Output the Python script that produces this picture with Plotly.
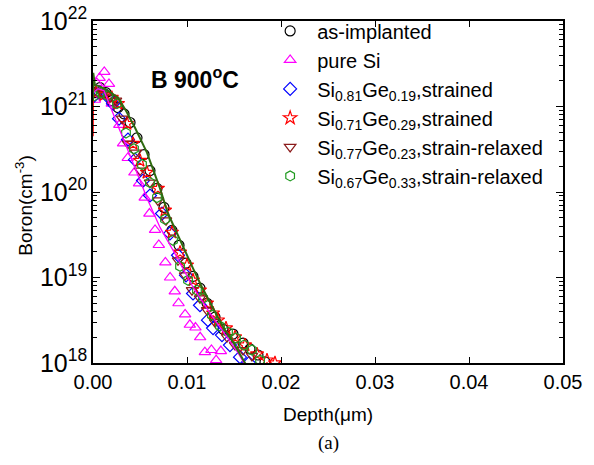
import plotly.graph_objects as go

# as-implanted (black circles)
imp_x = [0.0002, 0.00074, 0.00138, 0.0020, 0.00266, 0.0033, 0.00394, 0.00468, 0.00543, 0.00606,
         0.00681, 0.00755, 0.0084, 0.00915, 0.00989, 0.01064, 0.01138, 0.01213, 0.01298, 0.01383,
         0.01489, 0.01596, 0.0167, 0.01755, 0.0183]
imp_y = [1.45e21, 1.66e21, 1.45e21, 1.17e21, 9.7e20, 8.2e20, 6.5e20, 4.3e20, 2.74e20, 1.78e20,
         1.10e20, 6.6e19, 3.56e19, 2.38e19, 1.47e19, 1.03e19, 7.5e18, 5.0e18, 3.44e18, 2.49e18,
         2.18e18, 1.71e18, 1.46e18, 1.24e18, 1.03e18]

# pure Si (magenta triangles)
si_x = [0.0002, 0.0004, 0.0007, 0.0012, 0.0017, 0.0020, 0.0028, 0.0032, 0.0037, 0.0044,
        0.0049, 0.0055, 0.0060, 0.0066, 0.0070, 0.0077, 0.0082, 0.0087, 0.0091, 0.0098,
        0.0103, 0.0109, 0.0114, 0.0119, 0.0126, 0.0131, 0.0136]
si_y = [1.2e21, 1.89e21, 2.16e21, 2.54e21, 1.84e21, 1.08e21, 6.1e20, 3.7e20, 2.5e20, 1.69e20,
        1.26e20, 8.6e19, 5.6e19, 3.6e19, 2.4e19, 1.5e19, 1.0e19, 6.9e18, 5.0e18, 3.7e18,
        2.8e18, 2.6e18, 2.0e18, 1.34e18, 1.42e18, 1.08e18, 1.38e18]

# Si0.81Ge0.19 strained (blue diamonds)
g19_x = [0.0001, 0.00074, 0.00149, 0.00213, 0.00277, 0.00372, 0.00447, 0.00532, 0.00606, 0.00734,
         0.00819, 0.00904, 0.00989, 0.01064, 0.01138, 0.01223, 0.01277, 0.01372, 0.01457, 0.01564, 0.0166]
g19_y = [1.33e21, 1.45e21, 1.33e21, 1.08e21, 7.2e20, 4.1e20, 2.39e20, 1.36e20, 9.1e19, 5.6e19,
         3.28e19, 1.82e19, 1.06e19, 6.5e18, 4.74e18, 3.17e18, 2.56e18, 2.12e18, 1.62e18, 1.17e18, 1.0e18]

# Si0.71Ge0.29 strained (red stars)
g29_x = [0.00032, 0.00117, 0.0020, 0.00266, 0.00362, 0.00426, 0.0050, 0.00574, 0.00691, 0.00766,
         0.0084, 0.00926, 0.0100, 0.01064, 0.01138, 0.01213, 0.01277, 0.0133, 0.01415, 0.01511,
         0.01617, 0.01745, 0.01851, 0.01936]
g29_y = [1.45e21, 1.37e21, 1.27e21, 1.08e21, 6.3e20, 3.68e20, 2.33e20, 1.69e20, 1.10e20, 6.1e19,
         3.37e19, 1.97e19, 1.39e19, 9.3e18, 7.1e18, 5.0e18, 3.83e18, 3.17e18, 2.56e18, 2.01e18,
         1.62e18, 1.27e18, 1.08e18, 1.0e18]

# Si0.77Ge0.23 strain-relaxed (dark red down triangles)
g23_x = [0.0002, 0.00106, 0.00181, 0.00245, 0.00309, 0.00372, 0.00457, 0.0050, 0.00606, 0.00691,
         0.00777, 0.00904, 0.00979, 0.01053, 0.01138, 0.01213, 0.01298, 0.01426, 0.01511, 0.01596, 0.01691]
g23_y = [1.53e21, 1.41e21, 1.27e21, 1.17e21, 7.2e20, 3.68e20, 2.89e20, 1.78e20, 1.29e20, 7.96e19,
         4.66e19, 1.59e19, 1.06e19, 7.1e18, 5.7e18, 4.15e18, 3.0e18, 2.01e18, 1.62e18, 1.42e18, 1.21e18]

# Si0.67Ge0.33 strain-relaxed (green hexagons)
g33_x = [0.0001, 0.00085, 0.0016, 0.00255, 0.00351, 0.00436, 0.00521, 0.00606, 0.00681, 0.00766,
         0.00851, 0.00926, 0.01011, 0.01106, 0.0117, 0.01266, 0.01351, 0.01436, 0.01521, 0.01606,
         0.01691, 0.01777]
g33_y = [1.33e21, 1.45e21, 1.33e21, 1.08e21, 4.9e20, 3.2e20, 2.1e20, 1.29e20, 8.6e19, 4.8e19,
         2.72e19, 1.35e19, 9.3e18, 7.1e18, 5.7e18, 3.63e18, 2.7e18, 2.3e18, 1.96e18, 1.62e18,
         1.42e18, 1.08e18]

# simulated profiles
sim_si_x = [0.0, 0.00053, 0.00117, 0.0020, 0.00287, 0.00394, 0.0050, 0.00585, 0.00713, 0.00894,
            0.01064, 0.01245, 0.01426, 0.01543, 0.01606, 0.0167]
sim_si_y = [1.45e21, 1.61e21, 1.53e21, 8.9e20, 5.2e20, 2.67e20, 1.36e20, 7.96e19, 3.85e19, 1.72e19,
            7.7e18, 3.83e18, 2.01e18, 1.31e18, 1.0e18, 7.9e17]
sim_ge_x = [0.0, 0.00003, 0.0002, 0.00085, 0.0016, 0.00266, 0.00351, 0.00447, 0.00574, 0.0066,
            0.00713, 0.00798, 0.00894, 0.00979, 0.01064, 0.0116, 0.01245, 0.01383, 0.01489, 0.01596, 0.01649]
sim_ge_y = [1.17e21, 2.48e21, 1.79e21, 1.70e21, 1.53e21, 1.27e21, 8.9e20, 5.65e20, 2.89e20, 1.56e20,
            1.10e20, 5.6e19, 3.28e19, 1.97e19, 1.28e19, 7.7e18, 5.14e18, 2.63e18, 1.76e18, 1.08e18, 8.7e17]
sim_red_x = [0.0, 0.00003]
sim_red_y = [4.5e20, 2.3e21]

fig = go.Figure()

series = [
    ("as-implanted", imp_x, imp_y, "circle-open", "black"),
    ("pure Si", si_x, si_y, "triangle-up-open", "#ff00ff"),
    ("Si<sub>0.81</sub>Ge<sub>0.19</sub>,strained", g19_x, g19_y, "diamond-open", "#0000ff"),
    ("Si<sub>0.71</sub>Ge<sub>0.29</sub>,strained", g29_x, g29_y, "star-open", "#ff0000"),
    ("Si<sub>0.77</sub>Ge<sub>0.23</sub>,strain-relaxed", g23_x, g23_y, "triangle-down-open", "#8b1a1a"),
    ("Si<sub>0.67</sub>Ge<sub>0.33</sub>,strain-relaxed", g33_x, g33_y, "hexagon-open", "#1f9a1f"),
]
for name, xs, ys, sym, col in series:
    fig.add_trace(go.Scatter(x=xs, y=ys, mode="markers", name=name,
                             marker=dict(symbol=sym, size=10, color=col, line=dict(color=col, width=1.2))))

fig.add_trace(go.Scatter(x=sim_red_x, y=sim_red_y, mode="lines", showlegend=False,
                         line=dict(color="#ff0000", width=1.5)))
fig.add_trace(go.Scatter(x=sim_si_x, y=sim_si_y, mode="lines", showlegend=False,
                         line=dict(color="#ff00ff", width=1.3)))
fig.add_trace(go.Scatter(x=sim_ge_x, y=sim_ge_y, mode="lines", showlegend=False,
                         line=dict(color="#2f6b10", width=2)))

fig.update_layout(
    width=594, height=465,
    margin=dict(l=93, r=31, t=20, b=102),
    paper_bgcolor="white", plot_bgcolor="white",
    font=dict(family="Liberation Sans, Arial", size=20, color="black"),
    showlegend=True,
    legend=dict(x=0.362, y=1.025, xanchor="left", yanchor="top", bgcolor="rgba(0,0,0,0)",
                font=dict(size=20), itemwidth=44, tracegroupgap=0),
    annotations=[
        dict(text="<b>B 900<sup>o</sup>C</b>", x=0.218, y=0.832, xref="paper", yref="paper",
             xanchor="center", yanchor="middle", showarrow=False, font=dict(size=23)),
        dict(text="Boron(cm<sup>-3</sup>)", x=-0.146, y=0.461, xref="paper", yref="paper",
             xanchor="center", yanchor="middle", showarrow=False, textangle=-90, font=dict(size=19)),
        dict(text="Depth(μm)", x=0.5, y=-0.152, xref="paper", yref="paper",
             xanchor="center", yanchor="middle", showarrow=False, font=dict(size=19)),
        dict(text="(a)", x=0.5, y=-0.233, xref="paper", yref="paper",
             xanchor="center", yanchor="middle", showarrow=False,
             font=dict(family="Liberation Serif, Times New Roman", size=19)),
    ],
)

fig.update_xaxes(range=[0, 0.05], dtick=0.01, tickformat=".2f", showgrid=False, zeroline=False,
                 automargin=False,
                 showline=True, linecolor="black", linewidth=1.5, mirror="ticks",
                 ticks="inside", ticklen=6, tickwidth=1.3, tickcolor="black")
fig.update_yaxes(type="log", range=[18, 22], dtick=1, exponentformat="power", showgrid=False,
                 zeroline=False, automargin=False, ticklabeloverflow="allow",
                 showline=True, linecolor="black", linewidth=1.5, mirror="ticks",
                 ticks="inside", ticklen=7, tickwidth=1.3, tickcolor="black",
                 minor=dict(ticks="inside", ticklen=4, dtick="D1", tickcolor="black", showgrid=False))

# drop the default 8px page margin so the figure sits at the window corner
fig.write_html("out.html", config={"displayModeBar": False},
               post_script="document.body.style.margin='0';")
